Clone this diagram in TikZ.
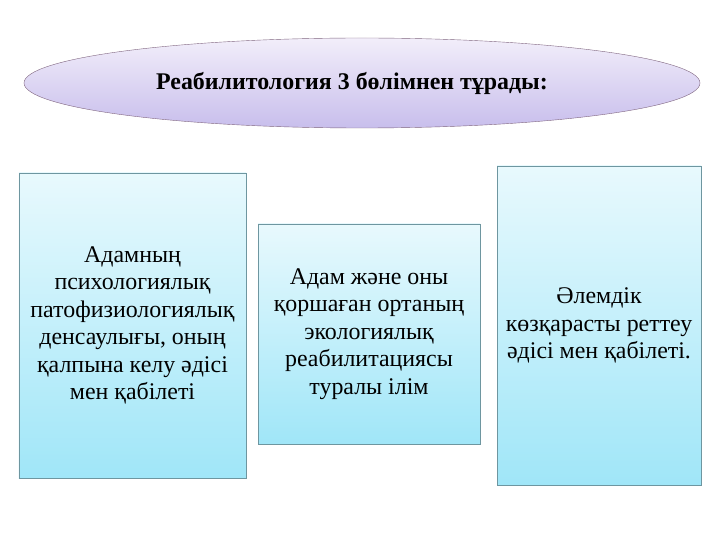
\documentclass[tikz,border=0pt]{standalone}
\usepackage{fontspec}
\setmainfont{Liberation Serif}
\usepackage{tikz}
\usetikzlibrary{shapes.geometric}

\definecolor{boxtop}{RGB}{232,249,253}
\definecolor{boxbot}{RGB}{160,230,248}
\definecolor{boxline}{RGB}{110,150,160}
\definecolor{ovaltop}{RGB}{242,238,250}
\definecolor{ovalbot}{RGB}{200,190,236}

\begin{document}
\begin{tikzpicture}[x=1bp, y=-1bp,
    headline/.style={ellipse, draw=gray!80!violet, thin,
        top color=ovaltop, bottom color=ovalbot,
        minimum width=676bp, minimum height=90bp, inner sep=0pt,
        font=\fontsize{24}{28}\selectfont\bfseries},
    partbox/.style={rectangle, draw=boxline, thin,
        top color=boxtop, bottom color=boxbot,
        align=center, inner sep=2bp,
        font=\fontsize{24}{27.5}\selectfont}]
    \useasboundingbox[fill=white] (0,0) rectangle (720,540);
    % heading
    \node[headline] (title) at (362,83) {Реабилитология 3 бөлімнен тұрады:\kern20bp};
    % three parts
    \node[partbox, minimum width=227bp, minimum height=305bp] (left) at (132.5,325.5)
        {Адамның\\ психологиялық\\ патофизиологиялық\\ денсаулығы, оның\\ қалпына келу әдісі\\ мен қабілеті};
    \node[partbox, minimum width=222bp, minimum height=220bp] (middle) at (369,334)
        {Адам және оны\\ қоршаған ортаның\\ экологиялық\\ реабилитациясы\\ туралы ілім};
    \node[partbox, minimum width=204bp, minimum height=319bp] (right) at (599,325.5)
        {Әлемдік\\ көзқарасты реттеу\\ әдісі мен қабілеті.};
\end{tikzpicture}
\end{document}
